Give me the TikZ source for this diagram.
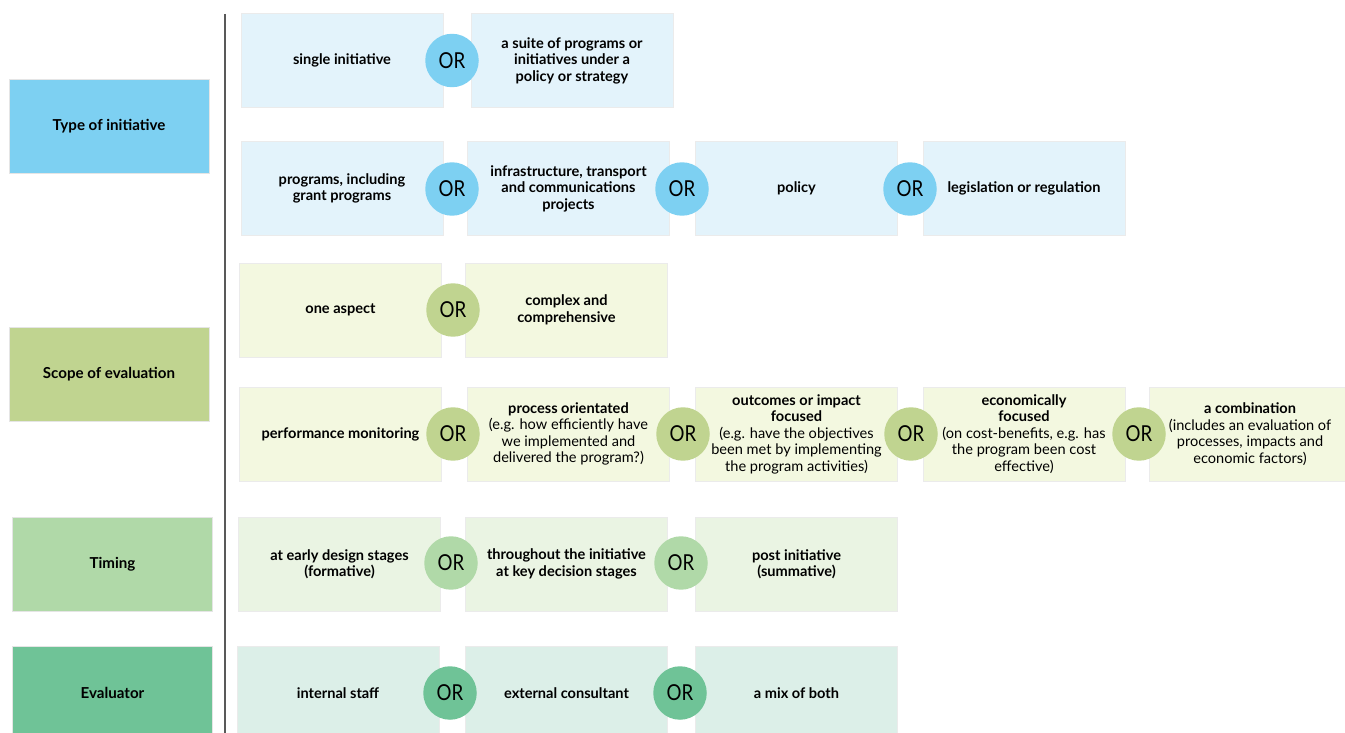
\documentclass[tikz,border=0pt]{standalone}
\usepackage{fontspec}
\setmainfont{Lato}
\newfontfamily\orfont[FakeStretch=0.85]{Lato}
\newcommand\regtext[1]{{\mdseries #1}}
\definecolor{typeblue}{HTML}{7DD0F2}
\definecolor{typelight}{HTML}{E3F3FB}
\definecolor{scopegreen}{HTML}{C0D490}
\definecolor{scopelight}{HTML}{F3F8E0}
\definecolor{timegreen}{HTML}{B0D9A8}
\definecolor{timelight}{HTML}{EAF4E3}
\definecolor{evalgreen}{HTML}{6FC397}
\definecolor{evallight}{HTML}{DCEFE8}
\begin{document}
\begin{tikzpicture}[x=0.02cm,y=-0.02cm,
    catbox/.style={rectangle,minimum width=4cm,minimum height=1.88cm,inner sep=0pt,
        draw=black!10,line width=0.3pt,font=\fontsize{8.6}{9.6}\selectfont\bfseries,align=center},
    optbox/.style={rectangle,minimum width=4.04cm,minimum height=1.88cm,inner sep=0pt,
        draw=black!8,line width=0.3pt,font=\fontsize{8.3}{9.4}\selectfont\bfseries,align=center},
    orbub/.style={circle,minimum size=1.07cm,inner sep=0pt,font=\orfont\fontsize{12.5}{14}\selectfont}]
        \clip (0,0) rectangle (1345,733);
        \fill[white] (0,0) rectangle (1345,733);
        \draw[black!65,line width=0.8pt] (225,14)--(225,740);
        % categories
        \node[catbox,fill=typeblue] (type) at (109,126) {Type of initiative};
        \node[catbox,fill=scopegreen] (scope) at (109,374) {Scope of evaluation};
        \node[catbox,fill=timegreen] (timing) at (112.5,564) {Timing};
        \node[catbox,fill=evalgreen] (evaluator) at (112.5,693) {Evaluator};
        % type of initiative
        \node[optbox,fill=typelight] (t1a) at (342,60.5) {single initiative};
        \node[optbox,fill=typelight] (t1b) at (572,60.5) {a suite of programs or\\initiatives under a\\policy or strategy};
        \node[optbox,fill=typelight] (t2a) at (342,188.5) {programs, including\\grant programs};
        \node[optbox,fill=typelight] (t2b) at (568.5,188.5) {infrastructure, transport\\and communications\\projects};
        \node[optbox,fill=typelight] (t2c) at (796.5,188.5) {policy};
        \node[optbox,fill=typelight] (t2d) at (1024,188.5) {legislation or regulation};
        \node[orbub,fill=typeblue] (or1) at (452,60.5) {OR};
        \node[orbub,fill=typeblue] (or2) at (452,189) {OR};
        \node[orbub,fill=typeblue] (or3) at (682,189) {OR};
        \node[orbub,fill=typeblue] (or4) at (910,189) {OR};
        % scope of evaluation
        \node[optbox,fill=scopelight] (s1a) at (340.5,310) {one aspect};
        \node[optbox,fill=scopelight] (s1b) at (566.5,310) {complex and\\comprehensive};
        \node[optbox,fill=scopelight] (s2a) at (340.5,434) {performance monitoring};
        \node[optbox,fill=scopelight] (s2b) at (568.5,434) {process orientated\\\regtext{(e.g. how efficiently have}\\\regtext{we implemented and}\\\regtext{delivered the program?)}};
        \node[optbox,fill=scopelight] (s2c) at (796.5,434) {outcomes or impact\\focused\\\regtext{(e.g. have the objectives}\\\regtext{been met by implementing}\\\regtext{the program activities)}};
        \node[optbox,fill=scopelight] (s2d) at (1024,434) {economically\\focused\\\regtext{(on cost-benefits, e.g. has}\\\regtext{the program been cost}\\\regtext{effective)}};
        \node[optbox,fill=scopelight] (s2e) at (1250,434) {a combination\\\regtext{(includes an evaluation of}\\\regtext{processes, impacts and}\\\regtext{economic factors)}};
        \node[orbub,fill=scopegreen] (or5) at (453,310) {OR};
        \node[orbub,fill=scopegreen] (or6) at (453,434) {OR};
        \node[orbub,fill=scopegreen] (or7) at (683,434) {OR};
        \node[orbub,fill=scopegreen] (or8) at (911,434) {OR};
        \node[orbub,fill=scopegreen] (or9) at (1139,434) {OR};
        % timing
        \node[optbox,fill=timelight] (m1a) at (339.5,564) {at early design stages\\(formative)};
        \node[optbox,fill=timelight] (m1b) at (566.5,564) {throughout the initiative\\at key decision stages};
        \node[optbox,fill=timelight] (m1c) at (796.5,564) {post initiative\\(summative)};
        \node[orbub,fill=timegreen] (or10) at (451,563) {OR};
        \node[orbub,fill=timegreen] (or11) at (681,563) {OR};
        % evaluator
        \node[optbox,fill=evallight] (e1a) at (338,693) {internal staff};
        \node[optbox,fill=evallight] (e1b) at (566.5,693) {external consultant};
        \node[optbox,fill=evallight] (e1c) at (796.5,693) {a mix of both};
        \node[orbub,fill=evalgreen] (or12) at (450,693) {OR};
        \node[orbub,fill=evalgreen] (or13) at (680,693) {OR};
\end{tikzpicture}
\end{document}
